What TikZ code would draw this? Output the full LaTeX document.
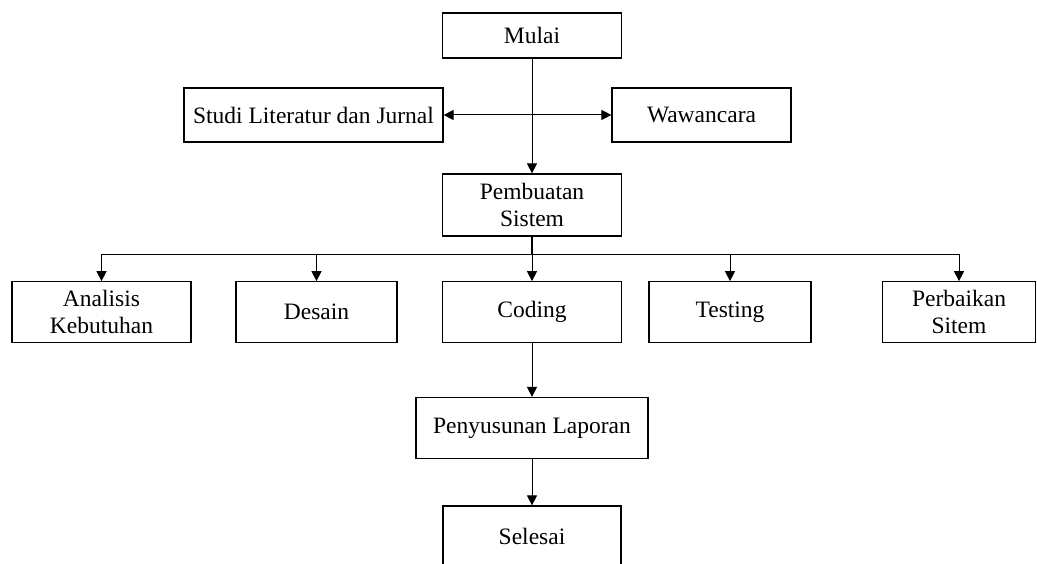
\documentclass[tikz,border=0pt]{standalone}
\usepackage{fontspec}
\setmainfont{Liberation Serif}
\usetikzlibrary{arrows.meta}

\tikzset{
  box/.style={draw, line width=1.2pt, fill=white, align=center, inner sep=0pt,
    font=\fontsize{23.5}{27.5}\selectfont},
  tip/.style={Triangle[width=10pt,length=10pt]},
  flow/.style={line width=1pt, -{Triangle[width=10pt,length=10pt]}},
  bothways/.style={line width=1pt, {Triangle[width=10pt,length=10pt]}-{Triangle[width=10pt,length=10pt]}},
  link/.style={line width=1.4pt}
}

\begin{document}
\begin{tikzpicture}[x=1pt, y=-1pt]
  \useasboundingbox (0,0) rectangle (1037,564);
  \clip (0,0) rectangle (1037,564);

  % top part
  \node[box, minimum width=179pt, minimum height=45pt] (mulai) at (532,35.5) {Mulai};
  \node[box, minimum width=259pt, minimum height=54pt] (studi) at (313.5,115) {Studi Literatur dan Jurnal};
  \node[box, minimum width=179pt, minimum height=54pt] (waw)   at (701.5,115) {Wawancara};
  \node[box, minimum width=179pt, minimum height=62pt] (pemb)  at (532,205) {Pembuatan\\Sistem};

  % development stages
  \node[box, minimum width=179pt, minimum height=60.5pt] (anal)   at (101.5,312) {Analisis\\Kebutuhan};
  \node[box, minimum width=161pt, minimum height=60.5pt] (desain) at (316.5,312) {Desain};
  \node[box, minimum width=179pt, minimum height=60.5pt] (coding) at (532,312) {Coding};
  \node[box, minimum width=162pt, minimum height=60.5pt] (test)   at (730,312) {Testing};
  \node[box, minimum width=153pt, minimum height=60.5pt] (perb)   at (959,312) {Perbaikan\\Sitem};

  % closing part
  \node[box, minimum width=232pt, minimum height=61pt] (peny) at (532,428) {Penyusunan Laporan};
  \node[box, minimum width=178pt, minimum height=60pt] (sel)  at (532,536) {Selesai};

  % connectors
  \draw[flow] (mulai) -- (pemb);
  \draw[bothways] (studi) -- (waw);

  \coordinate (bus) at (532,255);
  \draw[link] (pemb) -- (bus);
  \draw[flow] (bus) -| (anal);
  \draw[flow] (bus) -| (desain);
  \draw[flow] (bus) -- (coding);
  \draw[flow] (bus) -| (test);
  \draw[flow] (bus) -| (perb);

  \draw[flow] (coding) -- (peny);
  \draw[flow] (peny) -- (sel);
\end{tikzpicture}
\end{document}
